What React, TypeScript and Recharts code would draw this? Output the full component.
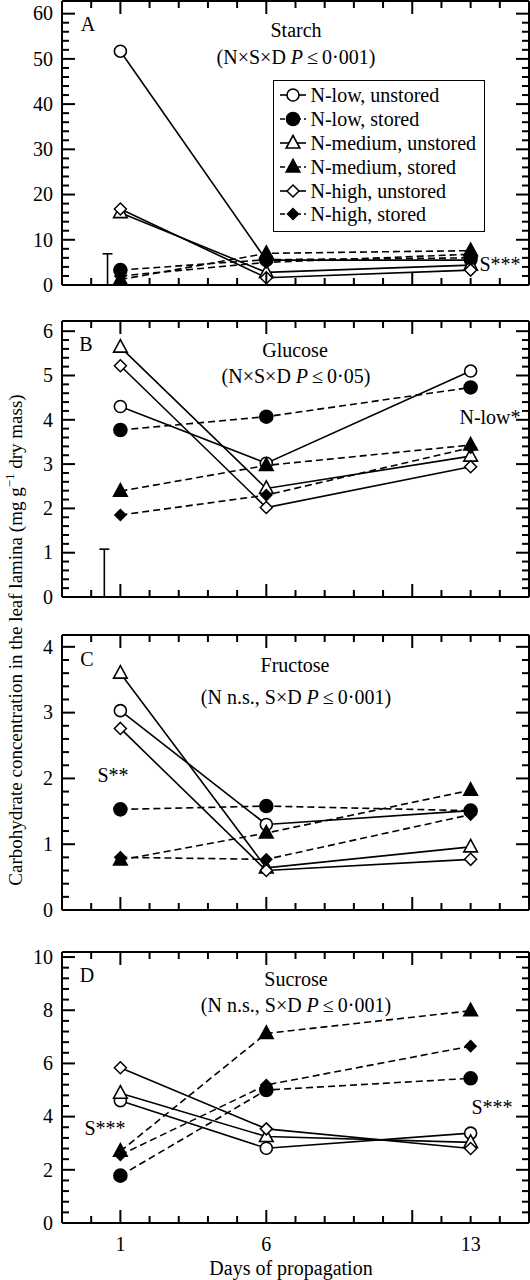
import React from 'react';
import { LineChart, Line, XAxis, YAxis, ReferenceLine } from 'recharts';

const FONT = '"Liberation Serif", "Times New Roman", serif';

const days = [1, 6, 13];

// A: starch
const starchLowUnstored = [51.7, 5.5, 5.5];
const starchLowStored = [3.3, 5.6, 6.0];
const starchMedUnstored = [16.0, 2.8, 4.4];
const starchMedStored = [1.2, 7.0, 7.6];
const starchHighUnstored = [16.8, 1.6, 3.3];
const starchHighStored = [2.0, 5.0, 6.8];

// B: glucose
const glucoseLowUnstored = [4.3, 3.02, 5.1];
const glucoseLowStored = [3.77, 4.07, 4.73];
const glucoseMedUnstored = [5.64, 2.45, 3.18];
const glucoseMedStored = [2.39, 2.97, 3.43];
const glucoseHighUnstored = [5.22, 2.02, 2.94];
const glucoseHighStored = [1.85, 2.3, 3.37];

// C: fructose
const fructoseLowUnstored = [3.03, 1.3, 1.51];
const fructoseLowStored = [1.53, 1.58, 1.51];
const fructoseMedUnstored = [3.6, 0.64, 0.96];
const fructoseMedStored = [0.76, 1.17, 1.82];
const fructoseHighUnstored = [2.76, 0.6, 0.77];
const fructoseHighStored = [0.8, 0.77, 1.45];

// D: sucrose
const sucroseLowUnstored = [4.6, 2.81, 3.38];
const sucroseLowStored = [1.78, 5.0, 5.44];
const sucroseMedUnstored = [4.88, 3.25, 3.03];
const sucroseMedStored = [2.7, 7.13, 7.98];
const sucroseHighUnstored = [5.84, 3.54, 2.8];
const sucroseHighStored = [2.56, 5.19, 6.65];

// LSD bars (height) in A and B
const starchLsd = 6.9;
const glucoseLsd = 1.08;

// axis ticks
const xTicks = [0, 1, 2, 3, 4, 5, 6, 7, 8, 9, 10, 11, 12, 13, 14];
const xMajorTicks = [1, 6, 11];
const xTickLabels = [1, 6, 13];
const starchTickLabels = [0, 10, 20, 30, 40, 50, 60];
const glucoseTickLabels = [0, 1, 2, 3, 4, 5, 6];
const fructoseTickLabels = [0, 1, 2, 3, 4];
const sucroseTickLabels = [0, 2, 4, 6, 8, 10];

const series = [
  { key: 'lowU', name: 'N-low, unstored', shape: 'circle', filled: false },
  { key: 'medU', name: 'N-medium, unstored', shape: 'triangle', filled: false },
  { key: 'highU', name: 'N-high, unstored', shape: 'diamond', filled: false },
  { key: 'lowS', name: 'N-low, stored', shape: 'circle', filled: true },
  { key: 'medS', name: 'N-medium, stored', shape: 'triangle', filled: true },
  { key: 'highS', name: 'N-high, stored', shape: 'diamond', filled: true },
];
const legendOrder = ['lowU', 'lowS', 'medU', 'medS', 'highU', 'highS'];

function buildRows(v: Record<string, number[]>) {
  return days.map((d, i) => {
    const row: any = { day: d };
    Object.keys(v).forEach((k) => (row[k] = v[k][i]));
    return row;
  });
}

const starchData = buildRows({
  lowU: starchLowUnstored, lowS: starchLowStored, medU: starchMedUnstored,
  medS: starchMedStored, highU: starchHighUnstored, highS: starchHighStored,
});
const glucoseData = buildRows({
  lowU: glucoseLowUnstored, lowS: glucoseLowStored, medU: glucoseMedUnstored,
  medS: glucoseMedStored, highU: glucoseHighUnstored, highS: glucoseHighStored,
});
const fructoseData = buildRows({
  lowU: fructoseLowUnstored, lowS: fructoseLowStored, medU: fructoseMedUnstored,
  medS: fructoseMedStored, highU: fructoseHighUnstored, highS: fructoseHighStored,
});
const sucroseData = buildRows({
  lowU: sucroseLowUnstored, lowS: sucroseLowStored, medU: sucroseMedUnstored,
  medS: sucroseMedStored, highU: sucroseHighUnstored, highS: sucroseHighStored,
});

function minorTicks(max: number, step: number) {
  const n = Math.round(max / step);
  return Array.from({ length: n + 1 }, (_, i) => Math.round(i * step * 100) / 100);
}

function Marker({ cx, cy, shape, filled }: any) {
  const fill = filled ? '#000' : '#fff';
  if (shape === 'circle') {
    return <circle cx={cx} cy={cy} r={filled ? 6.5 : 6} fill={fill} stroke="#000" strokeWidth={1.6} />;
  }
  if (shape === 'triangle') {
    return (
      <polygon
        points={`${cx},${cy - 7.5} ${cx + 6.8},${cy + 5} ${cx - 6.8},${cy + 5}`}
        fill={fill} stroke="#000" strokeWidth={1.6} strokeLinejoin="miter"
      />
    );
  }
  const s = filled ? 5.5 : 6;
  return (
    <polygon
      points={`${cx},${cy - s} ${cx + s},${cy} ${cx},${cy + s} ${cx - s},${cy}`}
      fill={fill} stroke="#000" strokeWidth={1.5}
    />
  );
}

const near = (a: number, list: number[]) => list.some((b) => Math.abs(a - b) < 1e-6);

function LeftTick({ x, y, payload, labels }: any) {
  const major = near(payload.value, labels);
  return (
    <g>
      <line x1={x} y1={y} x2={x + (major ? 13 : 7)} y2={y} stroke="#000" strokeWidth={2} />
      {major && (
        <text x={x - 9} y={y} dy="0.34em" textAnchor="end" fontSize={20} fontFamily={FONT} fill="#000">
          {payload.value}
        </text>
      )}
    </g>
  );
}

function RightTick({ x, y, payload, labels }: any) {
  const major = near(payload.value, labels);
  return <line x1={x} y1={y} x2={x - (major ? 13 : 7)} y2={y} stroke="#000" strokeWidth={2} />;
}

function BottomTick({ x, y, payload, showLabels }: any) {
  const major = near(payload.value, xMajorTicks);
  return (
    <g>
      <line x1={x} y1={y} x2={x} y2={y - (major ? 13 : 7)} stroke="#000" strokeWidth={2} />
      {showLabels && near(payload.value, xTickLabels) && (
        <text x={x} y={y + 21} dy="0.34em" textAnchor="middle" fontSize={20} fontFamily={FONT} fill="#000">
          {payload.value}
        </text>
      )}
    </g>
  );
}

function TopTick({ x, y, payload }: any) {
  const major = near(payload.value, xMajorTicks);
  return <line x1={x} y1={y} x2={x} y2={y + (major ? 13 : 7)} stroke="#000" strokeWidth={2} />;
}

const axisLine = { stroke: '#000', strokeWidth: 2 };
const PAD = 12;

function Panel({ top, plotH, bottomH, yMax, yStep, yLabels, data, showXLabels, lsd, lsdX }: any) {
  const yTicks = minorTicks(yLabels[yLabels.length - 1], yStep);
  const padTop = Math.min(PAD, top);
  return (
    <div style={{ position: 'absolute', left: 0, top: top - padTop }}>
      <LineChart
        width={530} height={padTop + 1 + plotH + bottomH} data={data}
        margin={{ top: padTop, right: 0, bottom: 0, left: 0 }}
      >
        <XAxis
          xAxisId="b" dataKey="day" type="number" domain={[-1, 15]} ticks={xTicks} interval={0}
          allowDataOverflow height={bottomH} tickSize={0} tickMargin={0} tickLine={false} axisLine={axisLine}
          tick={(p: any) => <BottomTick {...p} showLabels={showXLabels} />}
        />
        <XAxis
          xAxisId="t" orientation="top" dataKey="day" type="number" domain={[-1, 15]} ticks={xTicks} interval={0}
          allowDataOverflow height={1} tickSize={0} tickMargin={0} tickLine={false} axisLine={axisLine}
          tick={(p: any) => <TopTick {...p} />}
        />
        <YAxis
          yAxisId="l" type="number" domain={[0, yMax]} ticks={yTicks} interval={0} allowDataOverflow
          width={62} tickSize={0} tickMargin={0} tickLine={false} axisLine={axisLine}
          tick={(p: any) => <LeftTick {...p} labels={yLabels} />}
        />
        <YAxis
          yAxisId="r" orientation="right" type="number" domain={[0, yMax]} ticks={yTicks} interval={0} allowDataOverflow
          width={1} tickSize={0} tickMargin={0} tickLine={false} axisLine={axisLine}
          tick={(p: any) => <RightTick {...p} labels={yLabels} />}
        />
        {lsd != null && (
          <ReferenceLine
            xAxisId="b" yAxisId="l" segment={[{ x: lsdX, y: 0 }, { x: lsdX, y: lsd }]}
            stroke="#000" strokeWidth={1.6}
          />
        )}
        {lsd != null && (
          <ReferenceLine
            xAxisId="b" yAxisId="l" segment={[{ x: lsdX - 0.17, y: lsd }, { x: lsdX + 0.17, y: lsd }]}
            stroke="#000" strokeWidth={1.6}
          />
        )}
        <Line
          xAxisId="t" yAxisId="r" dataKey="lowU" stroke="none" dot={false} activeDot={false}
          isAnimationActive={false} legendType="none"
        />
        {series.map((s) => (
          <Line
            key={s.key}
            xAxisId="b" yAxisId="l" dataKey={s.key} type="linear"
            stroke="#000" strokeWidth={1.6} strokeDasharray={s.filled ? '7 4' : undefined}
            isAnimationActive={false} activeDot={false}
            dot={(p: any) => <Marker key={`${s.key}-${p.index}`} cx={p.cx} cy={p.cy} shape={s.shape} filled={s.filled} />}
          />
        ))}
      </LineChart>
    </div>
  );
}

function T({ x, y, children, size = 20, anchor = 'center' }: any) {
  const tx = anchor === 'center' ? '-50%' : anchor === 'left' ? '0' : '-100%';
  return (
    <div
      style={{
        position: 'absolute', left: x, top: y, transform: `translate(${tx}, -50%)`,
        fontSize: size, fontFamily: FONT, whiteSpace: 'nowrap', lineHeight: 1, color: '#000',
      }}
    >
      {children}
    </div>
  );
}

function Legend() {
  return (
    <div
      style={{
        position: 'absolute', left: 273, top: 80, width: 212, height: 152, boxSizing: 'border-box',
        border: '1.5px solid #000', background: '#fff', paddingTop: 2.5,
      }}
    >
      {legendOrder.map((k) => {
        const s = series.find((q) => q.key === k)!;
        return (
          <div key={k} style={{ display: 'flex', alignItems: 'center', height: 23.8 }}>
            <svg width={30} height={20} style={{ marginLeft: 5.5, flexShrink: 0 }}>
              <line
                x1={0} y1={10} x2={26} y2={10} stroke="#000" strokeWidth={1.6}
                strokeDasharray={s.filled ? '5 3' : undefined}
              />
              <Marker cx={13} cy={10} shape={s.shape} filled={s.filled} />
            </svg>
            <span style={{ fontFamily: FONT, fontSize: 20, marginLeft: 1, lineHeight: 1 }}>{s.name}</span>
          </div>
        );
      })}
    </div>
  );
}

const leq = '\u2009\u2264\u2009';

export default function App() {
  return (
    <div style={{ position: 'absolute', left: 0, top: 0, width: 530, height: 1280, background: '#fff', overflow: 'hidden' }}>
      <Panel top={0} plotH={284} bottomH={10} yMax={62.8} yStep={2} yLabels={starchTickLabels}
        data={starchData} lsd={starchLsd} lsdX={0.56} />
      <Panel top={320} plotH={276} bottomH={10} yMax={6.23} yStep={0.2} yLabels={glucoseTickLabels}
        data={glucoseData} lsd={glucoseLsd} lsdX={0.45} />
      <Panel top={634} plotH={275} bottomH={10} yMax={4.18} yStep={0.2} yLabels={fructoseTickLabels}
        data={fructoseData} />
      <Panel top={951} plotH={271} bottomH={57} yMax={10.19} yStep={0.4} yLabels={sucroseTickLabels}
        data={sucroseData} showXLabels />

      <T x={88} y={24}>A</T>
      <T x={296} y={30}>Starch</T>
      <T x={296} y={57}>(N×S×D <i>P</i>{leq}0·001)</T>
      <T x={500} y={264}>S***</T>
      <Legend />

      <T x={86} y={344}>B</T>
      <T x={295} y={350}>Glucose</T>
      <T x={296} y={376}>(N×S×D <i>P</i>{leq}0·05)</T>
      <T x={490} y={417}>N-low*</T>

      <T x={87} y={659}>C</T>
      <T x={295} y={665}>Fructose</T>
      <T x={296} y={697}>(N n.s., S×D <i>P</i>{leq}0·001)</T>
      <T x={113} y={775}>S**</T>

      <T x={87} y={975}>D</T>
      <T x={296} y={979}>Sucrose</T>
      <T x={296} y={1005}>(N n.s., S×D <i>P</i>{leq}0·001)</T>
      <T x={105} y={1128}>S***</T>
      <T x={492} y={1107}>S***</T>
      <T x={291} y={1268}>Days of propagation</T>

      <div
        style={{
          position: 'absolute', left: 14, top: 640, transform: 'translate(-50%, -50%) rotate(-90deg)',
          fontSize: 19, fontFamily: FONT, whiteSpace: 'nowrap', lineHeight: 1, color: '#000',
        }}
      >
        Carbohydrate concentration in the leaf lamina (mg g<sup style={{ fontSize: 13 }}>−1</sup> dry mass)
      </div>
    </div>
  );
}
